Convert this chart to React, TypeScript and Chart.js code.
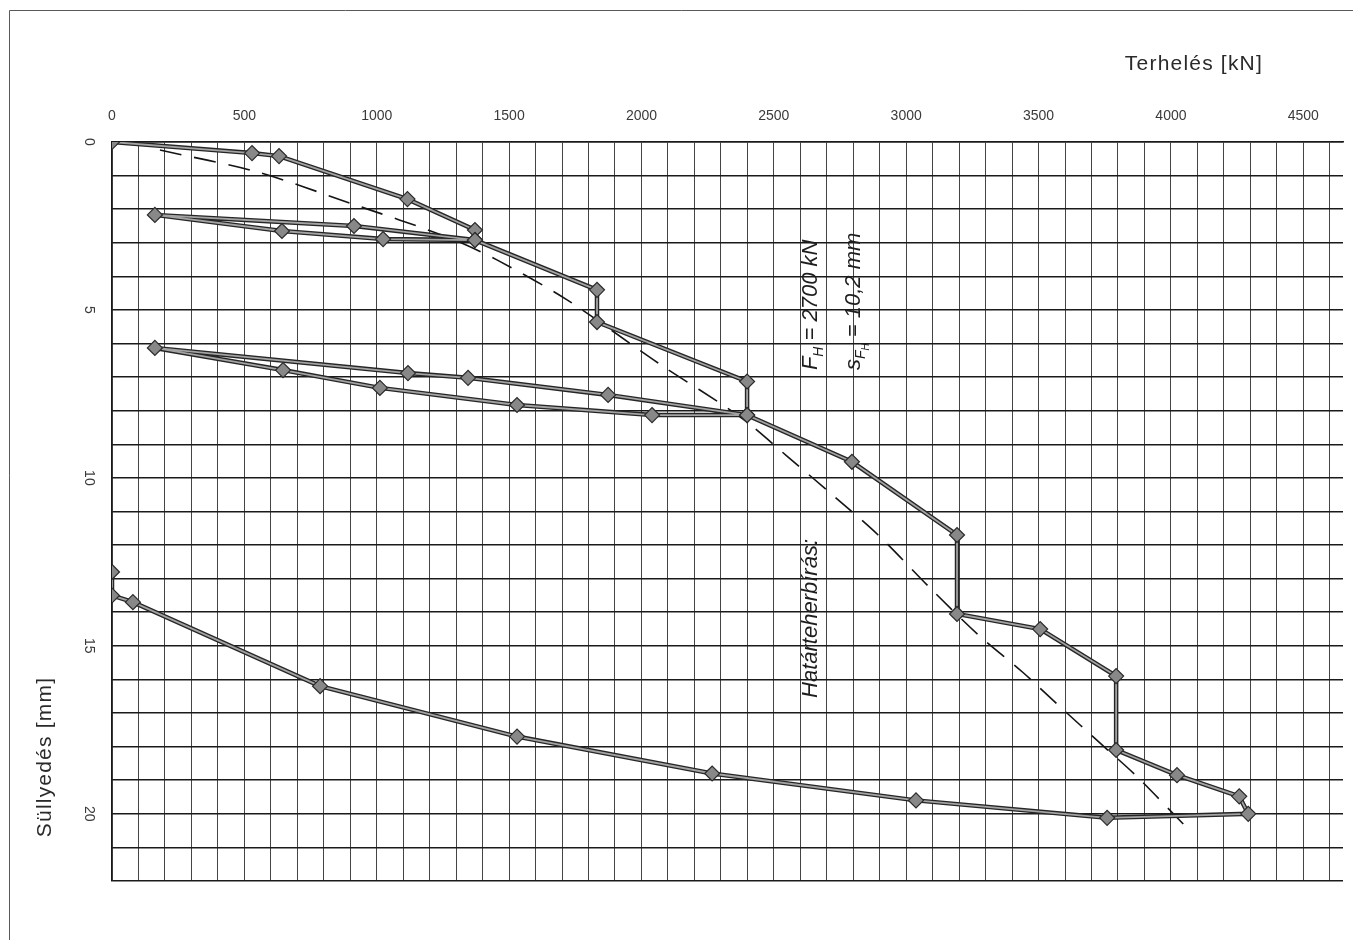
import React, { useEffect, useRef } from "react";
import { Chart, registerables } from "chart.js";

Chart.register(...registerables);

// ---- Data ----
// Measured load–settlement curve (in test order)
const loadKN = [
  0, 529, 631, 1116, 1371, 1371,
  914, 162, 642, 1024, 1371,
  1832, 1832, 2399, 2399,
  2040, 1530, 1012, 646, 162, 1118, 1345, 1874, 2399,
  2795, 3192, 3192, 3506, 3793, 3793, 4023, 4258, 4292,
  3759, 3037, 2267, 1530, 786, 79, 0, 0,
];
const settlementMM = [
  0, 0.33, 0.42, 1.7, 2.62, 2.92,
  2.5, 2.17, 2.65, 2.89, 2.92,
  4.4, 5.36, 7.13, 8.13,
  8.13, 7.83, 7.32, 6.79, 6.13, 6.88, 7.02, 7.53, 8.13,
  9.52, 11.7, 14.05, 14.5, 15.9, 18.1, 18.85, 19.48, 20.0,
  20.12, 19.6, 18.8, 17.7, 16.2, 13.7, 13.5, 12.8,
];
// Dashed (fitted) curve
const fitLoadKN = [181, 548, 899, 1266, 1454, 1719, 2063, 2372, 2554, 2731, 2894, 3098, 3272, 3438, 3574, 3740, 3865, 4061];
const fitSettlementMM = [0.24, 0.89, 1.82, 2.83, 3.51, 4.7, 6.58, 8.18, 9.38, 10.57, 11.7, 13.34, 14.67, 15.77, 16.76, 17.95, 18.84, 20.42];

// Axes
const xTickLabels = [0, 500, 1000, 1500, 2000, 2500, 3000, 3500, 4000, 4500];
const yTickLabels = [0, 5, 10, 15, 20];
const X_MIN = 0;
const X_MAX = 4650;
const X_STEP = 100;
const Y_MIN = 0;
const Y_MAX = 22;
const Y_STEP = 1;

const xTitle = "Terhelés [kN]";
const yTitle = "Süllyedés [mm]";

// Annotation (rotated text), anchors in data units
const annoLine1Label = "Határteherbírás:";
const annoLine1Anchor = { x: 2663, y: 16.55 };
const annoFAnchor = { x: 2663, y: 6.79 };
const annoSAnchor = { x: 2826, y: 6.79 };

const FONT = "'Liberation Sans', Arial, Helvetica, sans-serif";

type Part = { text: string; size: number; dy: number };

function drawRotatedParts(ctx: CanvasRenderingContext2D, parts: Part[], px: number, py: number) {
  ctx.save();
  ctx.translate(px, py);
  ctx.rotate(-Math.PI / 2);
  ctx.textAlign = "left";
  ctx.textBaseline = "alphabetic";
  let cx = 0;
  for (const p of parts) {
    ctx.font = `italic ${p.size}px ${FONT}`;
    ctx.fillText(p.text, cx, p.dy);
    cx += ctx.measureText(p.text).width;
  }
  ctx.restore();
}

const overlayPlugin = {
  id: "overlay",
  beforeDraw(chart: any) {
    const ctx: CanvasRenderingContext2D = chart.ctx;
    ctx.save();
    ctx.fillStyle = "#ffffff";
    ctx.fillRect(0, 0, chart.width, chart.height);
    ctx.strokeStyle = "#5a5a5a";
    ctx.lineWidth = 1;
    ctx.beginPath();
    ctx.moveTo(9.5, chart.height);
    ctx.lineTo(9.5, 10.5);
    ctx.lineTo(chart.width, 10.5);
    ctx.stroke();
    ctx.restore();
  },
  afterDraw(chart: any) {
    const ctx: CanvasRenderingContext2D = chart.ctx;
    const xs = chart.scales.x;
    const ys = chart.scales.y;

    // y tick labels (rotated clockwise, like the reference)
    ctx.save();
    ctx.font = `14px ${FONT}`;
    ctx.fillStyle = "#3a3a3a";
    ctx.textAlign = "center";
    ctx.textBaseline = "middle";
    for (const v of yTickLabels) {
      const py = ys.getPixelForValue(v);
      ctx.save();
      ctx.translate(xs.left - 23, py);
      ctx.rotate(Math.PI / 2);
      ctx.fillText(String(v), 0, 0);
      ctx.restore();
    }
    ctx.restore();

    // Axis titles
    ctx.save();
    ctx.fillStyle = "#2a2a2a";
    ctx.font = `21px ${FONT}`;
    (ctx as any).letterSpacing = "1.2px";
    ctx.textAlign = "right";
    ctx.textBaseline = "middle";
    ctx.fillText(xTitle, 1263, 64);
    ctx.save();
    ctx.translate(45, 757);
    ctx.rotate(-Math.PI / 2);
    ctx.textAlign = "center";
    ctx.fillText(yTitle, 0, 0);
    ctx.restore();
    ctx.restore();

    // Annotation text
    ctx.save();
    ctx.fillStyle = "#1e1e1e";
    drawRotatedParts(ctx, [{ text: annoLine1Label, size: 22, dy: 0 }],
      xs.getPixelForValue(annoLine1Anchor.x), ys.getPixelForValue(annoLine1Anchor.y));
    drawRotatedParts(ctx, [
      { text: "F", size: 22, dy: 0 },
      { text: "H", size: 14, dy: 6 },
      { text: " = 2700 kN", size: 22, dy: 0 },
    ], xs.getPixelForValue(annoFAnchor.x), ys.getPixelForValue(annoFAnchor.y));
    drawRotatedParts(ctx, [
      { text: "s", size: 22, dy: 0 },
      { text: "F", size: 14, dy: 5 },
      { text: "H", size: 10, dy: 9 },
      { text: " = 10,2 mm", size: 22, dy: 0 },
    ], xs.getPixelForValue(annoSAnchor.x), ys.getPixelForValue(annoSAnchor.y));
    ctx.restore();
  },
};

export default function App() {
  const canvasRef = useRef<HTMLCanvasElement | null>(null);

  useEffect(() => {
    const canvas = canvasRef.current;
    if (!canvas) return;

    const mainPoints = loadKN.map((x, i) => ({ x, y: settlementMM[i] }));
    const fitPoints = fitLoadKN.map((x, i) => ({ x, y: fitSettlementMM[i] }));

    const chart = new Chart(canvas, {
      type: "line",
      data: {
        datasets: [
          {
            label: "inner",
            data: mainPoints,
            borderColor: "#a3a3a3",
            borderWidth: 1.8,
            pointStyle: "rectRot",
            pointRadius: 7.5,
            pointBackgroundColor: "#888888",
            pointBorderColor: "#2a2a2a",
            pointBorderWidth: 1.2,
            tension: 0,
            fill: false,
          },
          {
            label: "outer",
            data: mainPoints,
            borderColor: "#262626",
            borderWidth: 4.5,
            pointRadius: 0,
            tension: 0,
            fill: false,
          },
          {
            label: "fit",
            data: fitPoints,
            borderColor: "#141414",
            borderWidth: 1.6,
            borderDash: [22, 13],
            pointRadius: 0,
            tension: 0.3,
            fill: false,
          },
        ],
      },
      options: {
        animation: false,
        responsive: false,
        maintainAspectRatio: false,
        layout: { padding: { left: 0, top: 0, right: 10, bottom: 59 } },
        plugins: { legend: { display: false }, tooltip: { enabled: false }, title: { display: false } },
        scales: {
          x: {
            type: "linear",
            position: "top",
            min: X_MIN,
            max: X_MAX,
            afterFit: (s: any) => {
              s.height = 142;
              s.paddingLeft = 0;
              s.paddingRight = 0;
            },
            grid: {
              color: (c: any) => (c.tick && c.tick.value > 4600 ? "rgba(0,0,0,0)" : "#444444"),
              lineWidth: 1,
              drawTicks: false,
            },
            border: { display: true, color: "#1a1a1a", width: 1.6 },
            ticks: {
              stepSize: X_STEP,
              includeBounds: false,
              autoSkip: false,
              maxRotation: 0,
              minRotation: 0,
              padding: 17,
              color: "#3a3a3a",
              font: { family: FONT, size: 14 },
              callback: (v: any) => (xTickLabels.includes(Number(v)) ? String(v) : ""),
            },
          },
          y: {
            type: "linear",
            reverse: true,
            min: Y_MIN,
            max: Y_MAX,
            afterFit: (s: any) => {
              s.width = 112;
              s.paddingTop = 0;
              s.paddingBottom = 0;
            },
            grid: { color: "#1a1a1a", lineWidth: 1.6, drawTicks: false },
            border: { display: true, color: "#1a1a1a", width: 1.2 },
            ticks: { stepSize: Y_STEP, display: false },
          },
        },
      },
      plugins: [overlayPlugin],
    } as any);

    return () => chart.destroy();
  }, []);

  return (
    <canvas
      ref={canvasRef}
      width={1353}
      height={940}
      style={{ position: "fixed", left: 0, top: 0, width: 1353, height: 940, display: "block" }}
    />
  );
}
